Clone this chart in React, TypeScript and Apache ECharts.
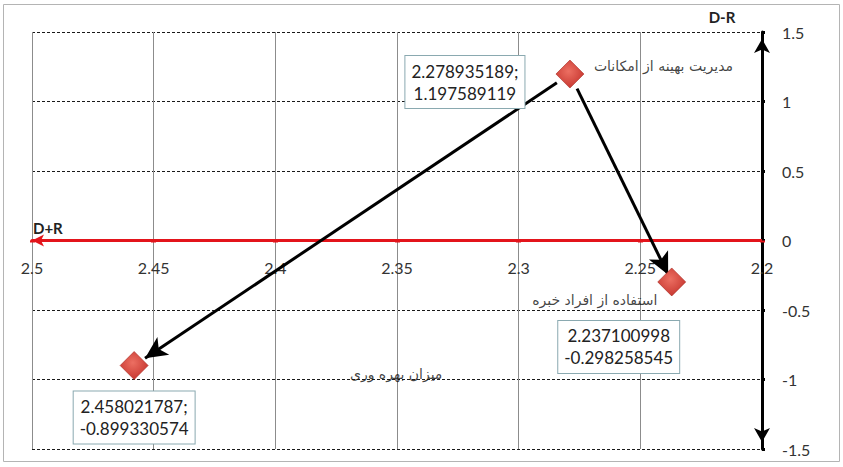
import React, { useEffect, useRef } from "react";
import * as echarts from "echarts";

// Criteria (points) : D+R on x, D-R on y
const pointNames = ["مدیریت بهینه از امکانات", "استفاده از افراد خبره", "میزان بهره وری"];
const dPlusR = [2.278935189, 2.237100998, 2.458021787];
const dMinusR = [1.197589119, -0.298258545, -0.899330574];
const labelSeparators = [";", "", ";"];

// axes
const xTicks = [2.2, 2.25, 2.3, 2.35, 2.4, 2.45, 2.5];
const xTickLabels = ["2.2", "2.25", "2.3", "2.35", "2.4", "2.45", "2.5"];
const yTicks = [-1.5, -1, -0.5, 0, 0.5, 1, 1.5];
const yTickLabels = ["-1.5", "-1", "-0.5", "0", "0.5", "1", "1.5"];

// arrows between points: [from, to]
const arrowPairs = [
  [0, 2],
  [0, 1],
];

const GRID = { left: 32, right: 81, top: 32, bottom: 18 };
const HEIGHT = 467;

export default function App() {
  const ref = useRef<HTMLDivElement>(null);

  useEffect(() => {
    const chart = echarts.init(ref.current!, null, { renderer: "svg" });
    const points = dPlusR.map((x, i) => [x, dMinusR[i]]);
    const lerp = (a: number[], b: number[], t: number) => [a[0] + (b[0] - a[0]) * t, a[1] + (b[1] - a[1]) * t];
    // trimming of arrow ends (fractions of segment) so they stop outside the markers
    const arrowTrim = [
      [0.03, 0.025],
      [0.07, 0.035],
    ];
    const arrowLines = arrowPairs.map(([f, t], k) => [
      { coord: lerp(points[f], points[t], arrowTrim[k][0]) },
      { coord: lerp(points[f], points[t], 1 - arrowTrim[k][1]) },
    ]);

    const valueLabelLayout: any[] = [
      { position: "inside", offset: [-105, 8] },
      { position: "inside", offset: [-53, 65] },
      { position: "inside", offset: [0, 52] },
    ];
    const nameLabelLayout: any[] = [
      { position: "right", distance: 10, offset: [0, -8] },
      { position: "inside", offset: [-77, 18] },
      { position: "inside", offset: [262, 8] },
    ];

    const fmtTick = (ticks: number[], labels: string[]) => (v: number) => {
      const i = ticks.findIndex((t) => Math.abs(t - v) < 1e-9);
      return i >= 0 ? labels[i] : "";
    };

    const yMin = yTicks[0];
    const yMax = yTicks[yTicks.length - 1];
    const gridH = HEIGHT - GRID.top - GRID.bottom;
    const zeroOffset = -gridH * ((0 - yMin) / (yMax - yMin));

    chart.setOption({
      animation: false,
      backgroundColor: "#ffffff",
      grid: { ...GRID, outerBoundsMode: "none", containLabel: false },
      xAxis: {
        type: "value",
        inverse: true,
        position: "bottom",
        offset: zeroOffset,
        min: xTicks[0],
        max: xTicks[xTicks.length - 1],
        interval: 0.05,
        axisLine: {
          show: true,
          onZero: false,
          symbol: ["arrow", "none"],
          symbolSize: [9, 12],
          lineStyle: { color: "#e3141b", width: 3 },
        },
        axisTick: { show: true, length: 2, lineStyle: { color: "#e3141b", width: 5 } },
        axisLabel: {
          margin: 19,
          fontSize: 16,
          color: "#333",
          fontFamily: "Lato",
          formatter: fmtTick(xTicks, xTickLabels),
        },
        splitLine: { show: true, lineStyle: { color: "#8c8c8c", width: 1 } },
      },
      yAxis: {
        type: "value",
        position: "right",
        min: yMin,
        max: yMax,
        interval: 0.5,
        axisLine: {
          show: true,
          onZero: false,
          symbol: ["arrow", "arrow"],
          symbolSize: [12, 14],
          symbolOffset: [7, -7],
          lineStyle: { color: "#000", width: 3 },
        },
        axisTick: { show: true, length: 3, lineStyle: { color: "#000", width: 3 } },
        axisLabel: {
          margin: 20,
          fontSize: 16,
          color: "#333",
          fontFamily: "Lato",
          formatter: fmtTick(yTicks, yTickLabels),
        },
        splitLine: { show: true, lineStyle: { color: "#1a1a1a", width: 1, type: [3, 2] } },
      },
      graphic: [
        {
          type: "rect",
          shape: { x: 3.5, y: 4.5, width: 836, height: 457 },
          style: { fill: "none", stroke: "#b4b4b4", lineWidth: 1 },
          silent: true,
        },
        {
          type: "text",
          x: 722,
          y: 17,
          style: { text: "D-R", fill: "#222", font: "bold 15px Lato", align: "center", verticalAlign: "middle" },
        },
        {
          type: "text",
          x: 33,
          y: 228,
          style: { text: "D+R", fill: "#222", font: "bold 15px Lato", align: "left", verticalAlign: "middle" },
        },
      ],
      series: [
        {
          type: "scatter",
          z: 5,
          symbol: "diamond",
          symbolSize: 28,
          itemStyle: {
            opacity: 1,
            color: {
              type: "radial",
              x: 0.45,
              y: 0.4,
              r: 0.7,
              colorStops: [
                { offset: 0, color: "#ec6f62" },
                { offset: 1, color: "#c22f29" },
              ],
            },
            borderColor: "#a8261f",
            borderWidth: 0.6,
          },
          label: {
            show: true,
            formatter: (p: any) =>
              p.value[0].toFixed(9) + labelSeparators[p.dataIndex] + "\n" + p.value[1].toFixed(9),
            backgroundColor: "#ffffff",
            borderColor: "#8aa9b0",
            borderWidth: 1,
            padding: [4, 6],
            fontSize: 17,
            lineHeight: 22,
            color: "#222",
            fontFamily: "Lato",
            align: "center",
            verticalAlign: "middle",
          },
          data: points.map((p, i) => ({ value: p, label: valueLabelLayout[i] })),
          markLine: {
            silent: true,
            z: 4,
            symbol: ["none", "arrow"],
            symbolSize: [16, 22],
            lineStyle: { color: "#000", width: 3, type: "solid" },
            label: { show: false },
            emphasis: { disabled: true },
            data: arrowLines,
          },
        },
        {
          type: "scatter",
          z: 6,
          symbol: "diamond",
          symbolSize: 28,
          silent: true,
          itemStyle: { color: "transparent" },
          label: {
            show: true,
            formatter: (p: any) => pointNames[p.dataIndex],
            fontFamily: "DejaVu Sans",
            fontSize: 14,
            color: "#111",
          },
          data: points.map((p, i) => ({ value: p, label: nameLabelLayout[i] })),
        },
      ],
    });
    return () => chart.dispose();
  }, []);

  return (
    <div
      ref={ref}
      style={{ position: "fixed", left: 0, top: 0, width: 843, height: 467, background: "#fff" }}
    />
  );
}
